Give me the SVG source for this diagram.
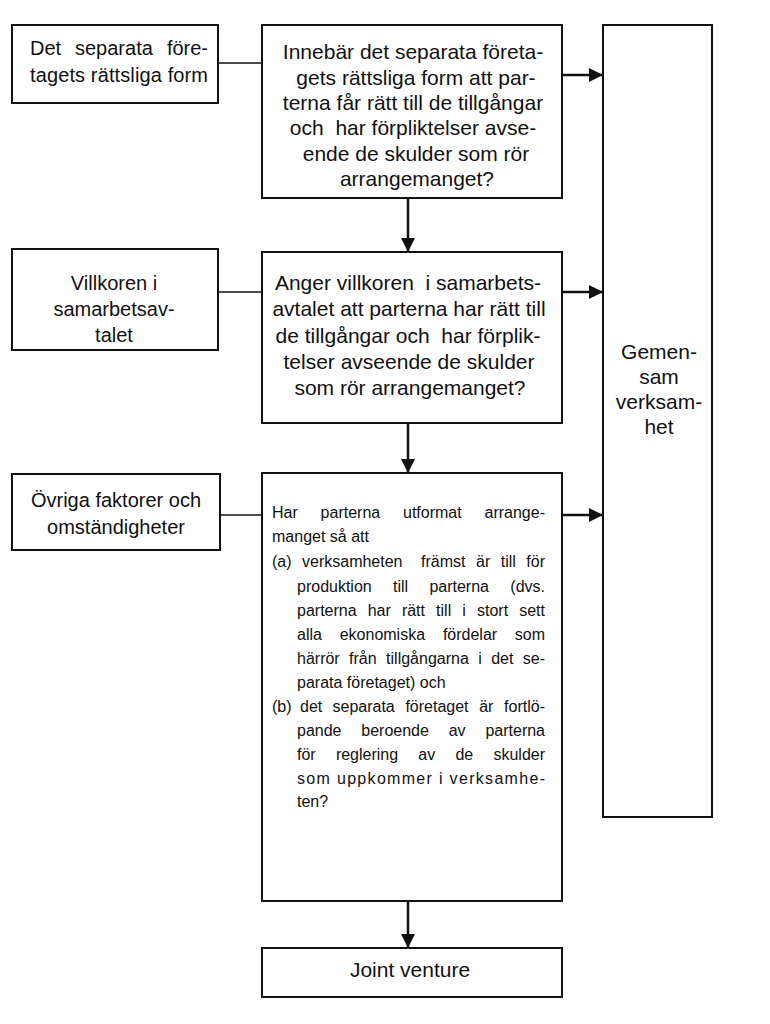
<svg xmlns="http://www.w3.org/2000/svg" width="770" height="1024" viewBox="0 0 770 1024">
<defs>
<style>
.box{fill:#fff;stroke:#111;stroke-width:2}
.t{font-family:"Liberation Sans",Arial,sans-serif;font-size:20px;fill:#111}
.b{font-size:21px}
.c{text-anchor:middle}
.s{font-family:"Liberation Sans",Arial,sans-serif;font-size:16px;fill:#111}
.e{text-anchor:end}
.ln{stroke:#111;stroke-width:1.6;fill:none}
.ar{stroke:#111;stroke-width:2.5;fill:none;marker-end:url(#ah)}
</style>
<marker id="ah" markerUnits="userSpaceOnUse" markerWidth="14" markerHeight="14" viewBox="0 0 14 14" refX="14" refY="7" orient="auto">
<path d="M0,0 L14,7 L0,14 Z" fill="#111"/>
</marker>
</defs>
<rect width="770" height="1024" fill="#fff"/>
<g id="connectors">
<line class="ln" x1="218" y1="63" x2="262" y2="63"/>
<line class="ln" x1="218" y1="292" x2="262" y2="292"/>
<line class="ln" x1="220" y1="515" x2="262" y2="515"/>
<line class="ar" x1="562" y1="75" x2="603" y2="75"/>
<line class="ar" x1="562" y1="292" x2="603" y2="292"/>
<line class="ar" x1="562" y1="515" x2="603" y2="515"/>
<line class="ar" x1="408" y1="198" x2="408" y2="252"/>
<line class="ar" x1="408" y1="423" x2="408" y2="473"/>
<line class="ar" x1="408" y1="901" x2="408" y2="948"/>
</g>
<g id="n1">
<rect class="box" x="12" y="25" width="206" height="78"/>
<text class="t" x="30" y="55">Det</text>
<text class="t" x="75" y="55">separata</text>
<text class="t e" x="208" y="55">före-</text>
<text class="t" x="30" y="82" textLength="178" lengthAdjust="spacing">tagets rättsliga form</text>
</g>
<g id="n2">
<rect class="box" x="262" y="25" width="300" height="173"/>
<text class="t b c" x="413" y="59">Innebär det separata företa-</text>
<text class="t b c" x="416" y="85">gets rättsliga form att par-</text>
<text class="t b c" x="413" y="110">terna får rätt till de tillgångar</text>
<text class="t b c" x="413" y="135" xml:space="preserve">och  har förpliktelser avse-</text>
<text class="t b c" x="416" y="161">ende de skulder som rör</text>
<text class="t b c" x="417" y="186">arrangemanget?</text>
</g>
<g id="n3">
<rect class="box" x="12" y="249" width="206" height="101"/>
<text class="t c" x="114" y="290">Villkoren i</text>
<text class="t c" x="114" y="316">samarbetsav-</text>
<text class="t c" x="114" y="342">talet</text>
</g>
<g id="n4">
<rect class="box" x="262" y="252" width="300" height="171"/>
<text class="t b c" x="408" y="290" xml:space="preserve">Anger villkoren  i samarbets-</text>
<text class="t b c" x="409" y="316">avtalet att parterna har rätt till</text>
<text class="t b c" x="408" y="343" xml:space="preserve">de tillgångar och  har förplik-</text>
<text class="t b c" x="409" y="369">telser avseende de skulder</text>
<text class="t b c" x="410" y="395">som rör arrangemanget?</text>
</g>
<g id="n5">
<rect class="box" x="12" y="474" width="208" height="76"/>
<text class="t c" x="116" y="507">Övriga faktorer och</text>
<text class="t c" x="116" y="534">omständigheter</text>
</g>
<g id="n6">
<rect class="box" x="262" y="473" width="300" height="428"/>
<text class="s" y="518"><tspan x="272">Har</tspan><tspan x="320.6">parterna</tspan><tspan x="403">utformat</tspan></text>
<text class="s e" x="545" y="518">arrange-</text>
<text class="s" x="272" y="542">manget så att</text>
<text class="s" y="567"><tspan x="272">(a)</tspan><tspan x="302">verksamheten</tspan><tspan x="421">främst</tspan><tspan x="476">är</tspan><tspan x="500.7">till</tspan></text>
<text class="s e" x="545" y="567">för</text>
<text class="s" y="592"><tspan x="297">produktion</tspan><tspan x="393">till</tspan><tspan x="429.4">parterna</tspan></text>
<text class="s e" x="545" y="592">(dvs.</text>
<text class="s" y="616"><tspan x="297">parterna</tspan><tspan x="367.7">har</tspan><tspan x="401.9">rätt</tspan><tspan x="436.1">till</tspan><tspan x="462.3">i</tspan><tspan x="477">stort</tspan></text>
<text class="s e" x="545" y="616">sett</text>
<text class="s" y="640"><tspan x="297">alla</tspan><tspan x="339.7">ekonomiska</tspan><tspan x="442.9">fördelar</tspan></text>
<text class="s e" x="545" y="640">som</text>
<text class="s" y="664"><tspan x="297">härrör</tspan><tspan x="349.1">från</tspan><tspan x="386.1">tillgångarna</tspan><tspan x="478.2">i</tspan><tspan x="491.2">det</tspan></text>
<text class="s e" x="545" y="664">se-</text>
<text class="s" x="297" y="688">parata företaget) och</text>
<text class="s" y="712"><tspan x="272">(b)</tspan><tspan x="300">det</tspan><tspan x="332.5">separata</tspan><tspan x="405.4">företaget</tspan><tspan x="479.2">är</tspan></text>
<text class="s e" x="545" y="712">fortlö-</text>
<text class="s" y="736"><tspan x="297">pande</tspan><tspan x="361.3">beroende</tspan><tspan x="448.7">av</tspan></text>
<text class="s e" x="545" y="736">parterna</text>
<text class="s" y="760"><tspan x="297">för</tspan><tspan x="335.9">reglering</tspan><tspan x="418.3">av</tspan><tspan x="455.4">de</tspan></text>
<text class="s e" x="545" y="760">skulder</text>
<text class="s" x="297" y="784" textLength="248" lengthAdjust="spacing">som uppkommer i verksamhe-</text>
<text class="s" x="297" y="807">ten?</text>
</g>
<g id="n7">
<rect class="box" x="603" y="25" width="109" height="792"/>
<text class="t b c" x="659" y="359">Gemen-</text>
<text class="t b c" x="659" y="384">sam</text>
<text class="t b c" x="659" y="409">verksam-</text>
<text class="t b c" x="659" y="434">het</text>
</g>
<g id="n8">
<rect class="box" x="262" y="948" width="300" height="49"/>
<text class="t b c" x="410" y="977">Joint venture</text>
</g>
</svg>
